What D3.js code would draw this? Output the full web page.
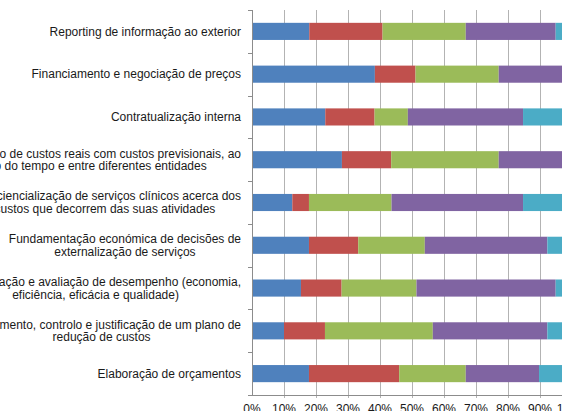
<!DOCTYPE html>
<html><head><meta charset="utf-8">
<script src="https://cdn.jsdelivr.net/npm/d3@7"></script>
<style>
html,body{margin:0;padding:0;background:#fff;overflow:hidden}
svg{display:block}
text{font-family:"Liberation Sans",Arial,sans-serif;fill:#1a1a1a}
</style></head>
<body>
<svg id="c" width="562" height="411"></svg>
<script>
// Categories top to bottom
const categories = [
  ["Reporting de informação ao exterior"],
  ["Financiamento e negociação de preços"],
  ["Contratualização interna"],
  ["Comparação de custos reais com custos previsionais, ao", "longo do tempo e entre diferentes entidades"],
  ["Consciencialização de serviços clínicos acerca dos", "custos que decorrem das suas atividades"],
  ["Fundamentação económica de decisões de", "externalização de serviços"],
  ["Monitorização e avaliação de desempenho (economia,", "eficiência, eficácia e qualidade)"],
  ["Planeamento, controlo e justificação de um plano de", "redução de custos"],
  ["Elaboração de orçamentos"]
];
const series1 = [17.9, 38.4, 22.9, 28.1, 12.6, 17.8, 15.3, 10.0, 17.8];
const series2 = [22.9, 12.7, 15.4, 15.4, 5.2, 15.4, 12.7, 12.8, 28.2];
const series3 = [26.0, 26.0, 10.4, 33.6, 25.8, 20.8, 23.4, 33.7, 20.8];
const series4 = [28.1, 22.9, 36.0, 22.9, 41.1, 38.3, 43.5, 35.8, 22.9];
const series5 = [5.1, 0.0, 15.3, 0.0, 15.3, 7.7, 5.1, 7.7, 10.3];
const seriesColors = ["#4F81BD", "#C0504D", "#9BBB59", "#8064A2", "#4BACC6"];
const xTicks = [0, 10, 20, 30, 40, 50, 60, 70, 80, 90, 100];

const allSeries = [series1, series2, series3, series4, series5];
const svg = d3.select("#c");
const x = d3.scaleLinear().domain([0, 100]).range([252, 572]);
const y = d3.scaleBand().domain(d3.range(categories.length)).range([10, 395]).paddingInner(0.6).paddingOuter(0.3);

// gridlines
svg.append("g").selectAll("line").data(xTicks.slice(1)).join("line")
  .attr("x1", d => Math.round(x(d)) + 0.5).attr("x2", d => Math.round(x(d)) + 0.5)
  .attr("y1", 10).attr("y2", 398)
  .attr("stroke", "#b3b3b3").attr("stroke-width", 1);

// bars
const stacked = categories.map((c, i) => {
  let acc = 0;
  return allSeries.map((s, k) => { const v0 = acc; acc += s[i]; return {i, k, v0, v1: acc}; });
}).flat();
svg.append("g").selectAll("rect").data(stacked).join("rect")
  .attr("x", d => x(d.v0)).attr("width", d => x(d.v1) - x(d.v0))
  .attr("y", d => y(d.i)).attr("height", y.bandwidth())
  .attr("fill", d => seriesColors[d.k]);

// y axis line and ticks
svg.append("line").attr("x1", 252.5).attr("x2", 252.5).attr("y1", 10).attr("y2", 395)
  .attr("stroke", "#8c8c8c");
const step = y.step();
svg.append("g").selectAll("line").data(d3.range(categories.length + 1)).join("line")
  .attr("x1", 248).attr("x2", 252)
  .attr("y1", d => Math.round(10 + d * step) + 0.5).attr("y2", d => Math.round(10 + d * step) + 0.5)
  .attr("stroke", "#8c8c8c");
// x axis line
svg.append("line").attr("x1", 252).attr("x2", 572).attr("y1", 395.5).attr("y2", 395.5).attr("stroke", "#8c8c8c");

// x tick labels
svg.append("g").selectAll("text").data(xTicks).join("text")
  .attr("x", d => x(d)).attr("y", 412.5).attr("text-anchor", "middle")
  .attr("font-size", 12).text(d => d + "%");

// category labels
const rightEdge = 241;
const lh = 12.5;
categories.forEach((lines, i) => {
  const g = svg.append("g");
  const cy = y(i) + y.bandwidth() / 2;
  const ts = lines.map((t, j) => g.append("text").attr("font-size", 12)
    .attr("y", cy + (j - (lines.length - 1) / 2) * lh + 4.2).text(t));
  const w = d3.max(ts, t => t.node().getComputedTextLength());
  ts.forEach(t => t.attr("text-anchor", "middle").attr("x", rightEdge - w / 2));
});
</script>
</body></html>
